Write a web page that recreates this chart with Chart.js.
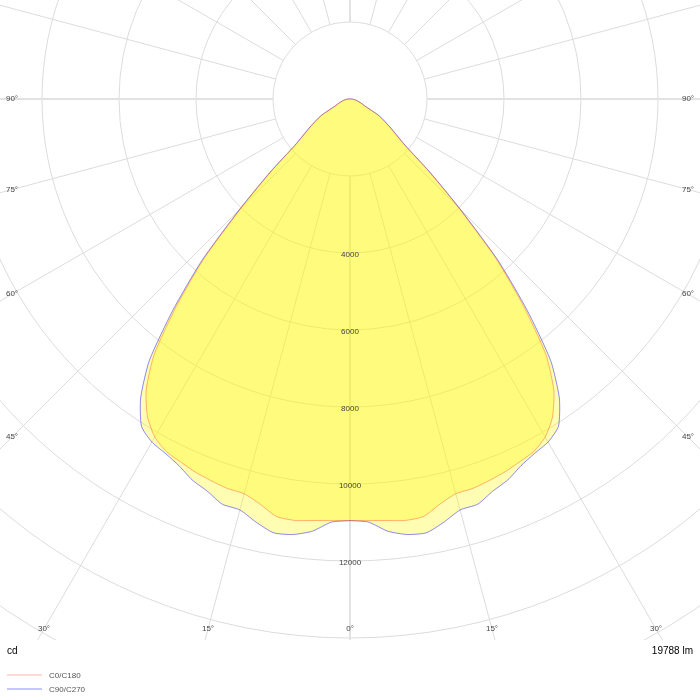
<!DOCTYPE html>
<html>
<head>
<meta charset="utf-8">
<script src="https://cdn.jsdelivr.net/npm/chart.js@4.4.1/dist/chart.umd.min.js"></script>
<style>
html, body { margin: 0; padding: 0; background: #fff; }
#wrap { position: relative; width: 700px; height: 700px; }
</style>
</head>
<body>
<div id="wrap"><canvas id="polarChart"></canvas></div>
<script>
// gamma angles (deg from nadir) and luminous intensity (cd)
var gammaAngles = [0, 2.5, 5, 7.5, 10, 12.5, 15, 17.5, 20, 22.5, 25, 27.5, 30, 32.5, 35, 37.5, 40, 42.5, 45, 47.5, 50, 55, 60, 65, 70, 75, 80, 85, 90];
var intensityC0 = [10950, 10960, 10990, 11040, 11010, 10780, 10615, 10605, 10550, 10490, 10405, 10325, 10140, 9790, 9230, 8350, 7000, 5600, 3980, 2760, 1830, 1240, 860, 410, 290, 205, 145, 85, 35];
var intensityC90 = [10950, 11000, 11270, 11410, 11440, 11260, 11050, 11035, 10840, 10710, 10510, 10380, 10290, 10080, 9480, 8560, 7150, 5700, 4060, 2820, 1870, 1270, 880, 420, 300, 210, 150, 90, 40];
var ringValues = [2000, 4000, 6000, 8000, 10000, 12000, 14000, 16000, 18000];
var ringLabels = [4000, 6000, 8000, 10000, 12000];
var angleLabels = [0, 15, 30, 45, 60, 75, 90];
var seriesNames = ['C0/C180', 'C90/C270'];
var unitLabel = 'cd';
var fluxLabel = '19788 lm';

var pxPerCd = 77 / 2000;
var centerX = 350, centerY = 99, gridBottom = 640;

// both half planes of one C-plane pair as a closed loop
function planeLoop(values) {
    var pts = [];
    for (var i = 0; i < gammaAngles.length; i++) {
        var g = gammaAngles[i] * Math.PI / 180;
        pts.push({x: values[i] * Math.sin(g), y: values[i] * Math.cos(g)});
    }
    for (var j = gammaAngles.length - 1; j >= 0; j--) {
        var g2 = gammaAngles[j] * Math.PI / 180;
        pts.push({x: -values[j] * Math.sin(g2), y: values[j] * Math.cos(g2)});
    }
    return pts;
}

var polarGrid = {
    id: 'polarGrid',
    beforeDatasetsDraw: function(chart) {
        var ctx = chart.ctx, xs = chart.scales.x, ys = chart.scales.y;
        var cx = xs.getPixelForValue(0), cy = ys.getPixelForValue(0);
        ctx.save();
        ctx.beginPath();
        ctx.rect(0, 0, chart.width, gridBottom);
        ctx.clip();
        ctx.strokeStyle = '#dcdcdc';
        ctx.lineWidth = 1;
        ringValues.forEach(function(v) {
            var r = xs.getPixelForValue(v) - cx;
            ctx.beginPath();
            ctx.arc(cx, cy, r, 0, Math.PI * 2);
            ctx.stroke();
        });
        var inner = ringValues[0], outer = 40000;
        for (var a = 0; a < 360; a += 15) {
            var rad = a * Math.PI / 180;
            var s = Math.sin(rad), c = Math.cos(rad);
            ctx.lineWidth = (a % 90 === 0) ? 2 : 1;
            ctx.strokeStyle = (a % 90 === 0) ? '#e2e2e2' : '#dcdcdc';
            ctx.beginPath();
            ctx.moveTo(xs.getPixelForValue(inner * s), ys.getPixelForValue(inner * c));
            ctx.lineTo(xs.getPixelForValue(outer * s), ys.getPixelForValue(outer * c));
            ctx.stroke();
        }
        ctx.restore();
    },
    afterDraw: function(chart) {
        var ctx = chart.ctx, xs = chart.scales.x, ys = chart.scales.y;
        var cx = xs.getPixelForValue(0), cy = ys.getPixelForValue(0);
        ctx.save();
        ctx.fillStyle = '#444';
        ctx.font = '8px "Liberation Sans", Arial, sans-serif';
        ctx.textAlign = 'center';
        ctx.textBaseline = 'middle';
        ringLabels.forEach(function(v) {
            ctx.fillText(String(v), cx, ys.getPixelForValue(v) + 2);
        });
        // angle labels where the radial lines leave the grid
        var inset = 12;
        angleLabels.forEach(function(a) {
            var rad = a * Math.PI / 180;
            var s = Math.sin(rad), c = Math.cos(rad);
            var tx = s > 1e-6 ? (chart.width - inset - cx) / s : Infinity;
            var ty = c > 1e-6 ? (gridBottom - 11 - cy) / c : Infinity;
            var t = Math.min(tx, ty);
            var sides = a === 0 ? [1] : [1, -1];
            sides.forEach(function(sd) {
                ctx.fillText(a + '\u00b0', cx + sd * t * s, cy + t * c);
            });
        });
        ctx.fillStyle = '#000';
        ctx.font = '10px "Liberation Sans", Arial, sans-serif';
        ctx.textAlign = 'left';
        ctx.fillText(unitLabel, 7, 651);
        ctx.textAlign = 'right';
        ctx.fillText(fluxLabel, 693, 651);
        // legend
        ctx.font = '8px "Liberation Sans", Arial, sans-serif';
        ctx.textAlign = 'left';
        chart.data.datasets.forEach(function(ds, i) {
            var y = 675 + i * 14;
            ctx.strokeStyle = ds.borderColor;
            ctx.lineWidth = 1;
            ctx.beginPath();
            ctx.moveTo(7, y);
            ctx.lineTo(42, y);
            ctx.stroke();
            ctx.fillStyle = '#555';
            ctx.fillText(ds.label, 49, y + 0.5);
        });
        ctx.restore();
    }
};

document.addEventListener("DOMContentLoaded", function() {
    var ctx = document.getElementById('polarChart').getContext('2d');
    var myChart = new Chart(ctx, {
        type: 'scatter',
        data: {
            datasets: [{
                label: seriesNames[0],
                data: planeLoop(intensityC0),
                showLine: true,
                borderColor: 'rgba(255, 40, 0, 0.35)',
                backgroundColor: 'rgba(255, 250, 0, 0.3)',
                borderWidth: 1,
                pointRadius: 0,
                tension: 0.2,
                fill: 'shape'
            }, {
                label: seriesNames[1],
                data: planeLoop(intensityC90),
                showLine: true,
                borderColor: 'rgba(0, 0, 255, 0.45)',
                backgroundColor: 'rgba(255, 250, 0, 0.3)',
                borderWidth: 1,
                pointRadius: 0,
                tension: 0.2,
                fill: 'shape'
            }]
        },
        options: {
            responsive: true,
            maintainAspectRatio: false,
            animation: false,
            layout: { padding: 0 },
            plugins: {
                legend: { display: false },
                tooltip: { enabled: false }
            },
            scales: {
                x: { type: 'linear', display: false, min: -centerX / pxPerCd, max: (700 - centerX) / pxPerCd },
                y: { type: 'linear', display: false, reverse: true, min: -centerY / pxPerCd, max: (700 - centerY) / pxPerCd }
            }
        },
        plugins: [polarGrid]
    });
});
</script>
</body>
</html>
